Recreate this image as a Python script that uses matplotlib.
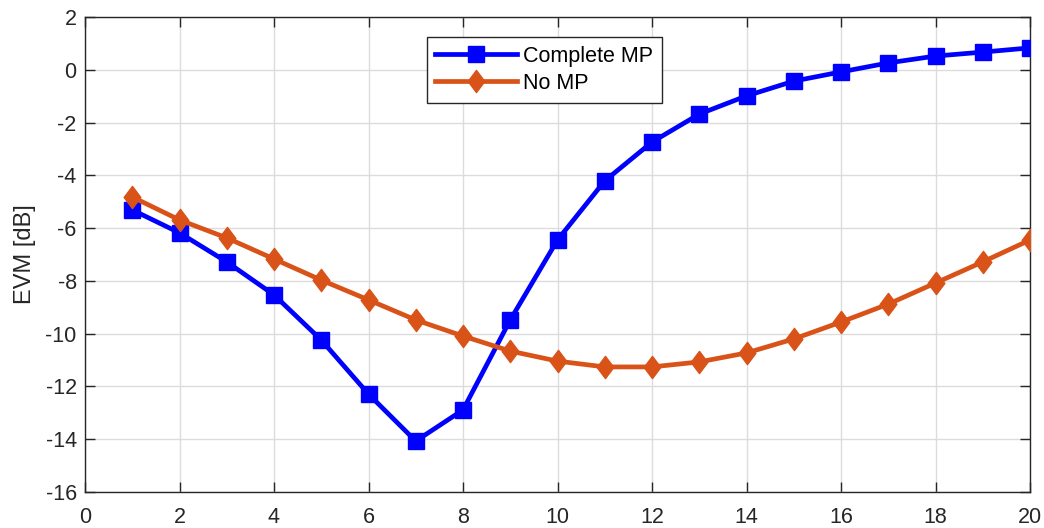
import matplotlib
matplotlib.use("Agg")
import matplotlib.pyplot as plt
from matplotlib.path import Path

plt.rcParams['font.family'] = ['Liberation Sans', 'DejaVu Sans']
plt.rcParams['axes.unicode_minus'] = False

# Data
x_vals = list(range(1, 21))
complete_mp = [-5.31, -6.18, -7.28, -8.53, -10.24, -12.29, -14.07, -12.89, -9.48, -6.45,
               -4.21, -2.74, -1.68, -0.99, -0.43, -0.08, 0.26, 0.52, 0.67, 0.83]
no_mp = [-4.82, -5.69, -6.37, -7.17, -7.97, -8.72, -9.48, -10.09, -10.66, -11.04,
         -11.26, -11.26, -11.07, -10.73, -10.20, -9.56, -8.88, -8.08, -7.28, -6.45]
series_labels = ["Complete MP", "No MP"]
x_ticks = list(range(0, 21, 2))
y_ticks = list(range(-16, 3, 2))

# Tall diamond, like MATLAB's 'd' marker
diamond = Path([(0, 1), (0.75, 0), (0, -1), (-0.75, 0), (0, 1)],
               [Path.MOVETO, Path.LINETO, Path.LINETO, Path.LINETO, Path.CLOSEPOLY])

fig = plt.figure(figsize=(10.44, 5.28), dpi=100)
ax = fig.add_axes([85/1044, 36/528, 945/1044, 475/528])

ax.plot(x_vals, complete_mp, color=(0, 0, 1), lw=3.4, marker='s', ms=11.5,
        label=series_labels[0], zorder=3)
ax.plot(x_vals, no_mp, color='#D95319', lw=3.4, marker=diamond, ms=16,
        label=series_labels[1], zorder=4)

ax.set_xlim(0, 20)
ax.set_ylim(-16, 2)
ax.set_xticks(x_ticks)
ax.set_yticks(y_ticks)
ax.grid(True, color='#dcdcdc', lw=1.0)
ax.set_axisbelow(True)
ax.tick_params(direction='in', length=7, width=1, colors='#262626',
               labelsize=15.5, top=True, right=True)
ax.tick_params(axis='x', pad=11)
ax.tick_params(axis='y', pad=6)
for s in ax.spines.values():
    s.set_color('#262626')
    s.set_linewidth(1.0)
ax.set_ylabel("EVM [dB]", fontsize=17, color='#262626', labelpad=7)

leg = ax.legend(loc='upper center', bbox_to_anchor=(0.486, 0.958), fontsize=15.5,
                frameon=True, fancybox=False, framealpha=1, edgecolor='#262626',
                handlelength=3.8, borderpad=0.4, labelspacing=0.3,
                handletextpad=0.3, borderaxespad=0)
leg.get_frame().set_linewidth(1.0)

fig.savefig("out.png", dpi=100)
